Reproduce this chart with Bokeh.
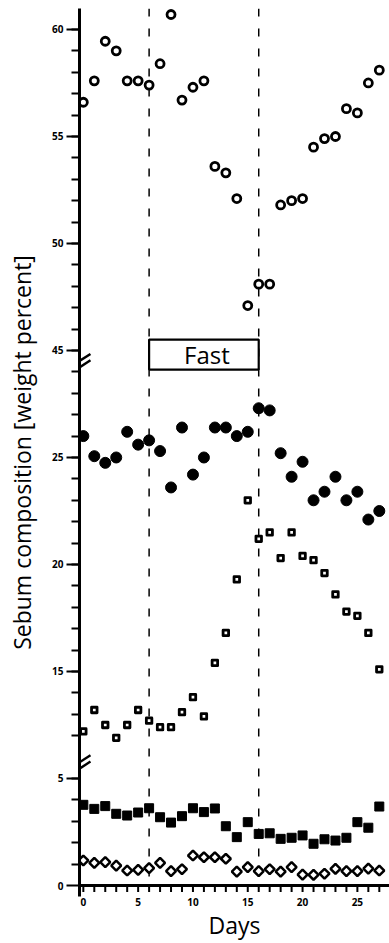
import math
from bokeh.plotting import figure
from bokeh.models import FixedTicker, Range1d
from bokeh.core.properties import value
from bokeh.embed import file_html
from bokeh.resources import INLINE

# ---------------- data ----------------
days = list(range(28))

# top segment (45-61 %): open circles
open_circles = [56.6, 57.6, 59.45, 59.0, 57.6, 57.6, 57.4, 58.4, 60.7, 56.7,
                57.3, 57.6, 53.6, 53.3, 52.1, 47.1, 48.1, 48.1, 51.8, 52.0,
                52.1, 54.5, 54.9, 55.0, 56.3, 56.1, 57.5, 58.1]
# middle segment (12-28 %): filled circles
filled_circles = [26.0, 25.06, 24.75, 25.0, 26.2, 25.6, 25.8, 25.3, 23.6, 26.4,
                  24.2, 25.0, 26.4, 26.4, 26.0, 26.2, 27.3, 27.2, 25.2, 24.1,
                  24.8, 23.0, 23.4, 24.1, 23.0, 23.4, 22.1, 22.5]
# middle segment: open squares
open_squares = [12.2, 13.2, 12.5, 11.9, 12.5, 13.2, 12.7, 12.4, 12.4, 13.1,
                13.8, 12.9, 15.4, 16.8, 19.3, 23.0, 21.2, 21.5, 20.3, 21.5,
                20.4, 20.2, 19.6, 18.6, 17.8, 17.6, 16.8, 15.1]
# bottom segment (0-5 %): filled squares
filled_squares = [3.77, 3.58, 3.71, 3.35, 3.27, 3.41, 3.61, 3.19, 2.94, 3.24,
                  3.61, 3.43, 3.60, 2.77, 2.26, 2.96, 2.41, 2.44, 2.18, 2.23,
                  2.34, 1.95, 2.16, 2.10, 2.23, 2.96, 2.70, 3.69]
# bottom segment: open diamonds
open_diamonds = [1.17, 1.06, 1.09, 0.93, 0.70, 0.73, 0.81, 1.06, 0.67, 0.76,
                 1.40, 1.32, 1.32, 1.25, 0.65, 0.86, 0.67, 0.76, 0.65, 0.86,
                 0.51, 0.50, 0.55, 0.78, 0.67, 0.67, 0.79, 0.70]

fast_period = [6, 16]
fast_label = "Fast"

y_tick_values = [0, 5, 15, 20, 25, 45, 50, 55, 60]
y_tick_labels = ["0", "5", "15", "20", "25", "45", "50", "55", "60"]
x_tick_values = [0, 5, 10, 15, 20, 25]
x_tick_labels = ["0", "5", "10", "15", "20", "25"]

y_label = "Sebum composition [weight percent]"
x_label = "Days"


# ---------------- broken y axis: segment shifts ----------------
def to_axis(v):
    """Map a real percentage onto the broken axis coordinate."""
    if v >= 40:
        return v - 20
    if v >= 10:
        return v - 5
    return v


def mapped(vals):
    return [to_axis(v) for v in vals]


Y_TOP = 40.98
Y_BOTTOM = -0.514
X_START, X_END = -0.35, 27.93
BREAKS = [5.75, 24.5]          # axis coordinates of the "//" marks
TICK_LEN = 0.3                 # x tick length in axis units
FONT = "Open Sans"

p = figure(width=389, height=943,
           x_range=Range1d(X_START, X_END), y_range=Range1d(Y_BOTTOM, Y_TOP),
           output_backend="svg", toolbar_location=None,
           min_border_left=79, min_border_right=0, min_border_top=8,
           min_border_bottom=47)
p.grid.visible = False
p.outline_line_color = None

# ---- y axis ----
yax = p.yaxis[0]
major_pos = [to_axis(v) for v in y_tick_values]
minor_pos = [i for i in range(1, 41) if i != 6]
yax.ticker = FixedTicker(ticks=major_pos, minor_ticks=minor_pos)
yax.major_label_overrides = {pos: lab for pos, lab in zip(major_pos, y_tick_labels)}
yax.axis_line_width = 3
yax.axis_line_color = "black"
yax.major_tick_line_width = 2
yax.minor_tick_line_width = 2
yax.major_tick_line_color = "black"
yax.minor_tick_line_color = "black"
yax.major_tick_out = 13
yax.major_tick_in = 0
yax.minor_tick_out = 8
yax.minor_tick_in = 0
yax.major_label_text_font = FONT
yax.major_label_text_font_style = "bold"
yax.major_label_text_font_size = "10px"
yax.major_label_text_color = "black"
yax.major_label_standoff = 3
yax.axis_label = y_label
yax.axis_label_text_font = FONT
yax.axis_label_text_font_style = "normal"
yax.axis_label_text_font_size = "23px"
yax.axis_label_text_color = "black"
yax.axis_label_standoff = 11

# ---- x axis (labels from the axis; its rule/ticks drawn at y = 0 below) ----
xax = p.xaxis[0]
xax.ticker = FixedTicker(ticks=x_tick_values, minor_ticks=days)
xax.major_label_overrides = {v: l for v, l in zip(x_tick_values, x_tick_labels)}
xax.axis_line_color = None
xax.major_tick_line_color = None
xax.minor_tick_line_color = None
xax.major_tick_out = 0
xax.major_tick_in = 0
xax.minor_tick_out = 0
xax.minor_tick_in = 0
xax.major_label_text_font = FONT
xax.major_label_text_font_style = "bold"
xax.major_label_text_font_size = "10px"
xax.major_label_text_color = "black"
xax.major_label_standoff = 1
xax.axis_label = x_label
xax.axis_label_text_font = FONT
xax.axis_label_text_font_style = "normal"
xax.axis_label_text_font_size = "23px"
xax.axis_label_text_color = "black"
xax.axis_label_standoff = 0

# x rule at 0 % and a tick for every day
p.segment(x0=[X_START], y0=[0], x1=[X_END], y1=[0], line_color="black", line_width=3)
p.segment(x0=days, y0=[0] * len(days), x1=days, y1=[-TICK_LEN] * len(days),
          line_color="black", line_width=2)

# ---- fast period: dashed lines and box ----
p.segment(x0=fast_period, y0=[Y_TOP] * 2, x1=fast_period, y1=[0] * 2,
          line_color="black", line_width=1.5, line_dash="8 12")
p.quad(left=[fast_period[0]], right=[fast_period[1]], bottom=[24.11], top=[25.51],
       fill_color="white", line_color="black", line_width=2.2)
p.text(x=[sum(fast_period) / 2], y=[24.81], text=[fast_label],
       text_font=value(FONT), text_font_size="24px", text_align="center",
       text_baseline="middle", x_offset=3, text_color="black")

# ---- axis break marks ----
for yb in BREAKS:
    for off in (-0.15, 0.15):
        p.segment(x0=[-0.5], y0=[yb - 0.19 + off], x1=[0.65], y1=[yb + 0.19 + off],
                  line_color="black", line_width=2.4)

# ---- series ----
p.scatter(days, mapped(open_circles), marker="circle", size=8,
          fill_color="white", line_color="black", line_width=2.8)
p.scatter(days, mapped(filled_circles), marker="circle", size=11,
          fill_color="black", line_color="black", line_width=1)
p.scatter(days, mapped(open_squares), marker="square", size=5.5,
          fill_color="white", line_color="black", line_width=2.8, line_join="round")
p.scatter(days, mapped(filled_squares), marker="square", size=9,
          fill_color="black", line_color="black", line_width=1)
p.scatter(days, mapped(open_diamonds), marker="square", angle=math.pi / 4, size=7,
          fill_color="white", line_color="black", line_width=2.5)

open("out.html", "w").write(file_html(p, INLINE))
